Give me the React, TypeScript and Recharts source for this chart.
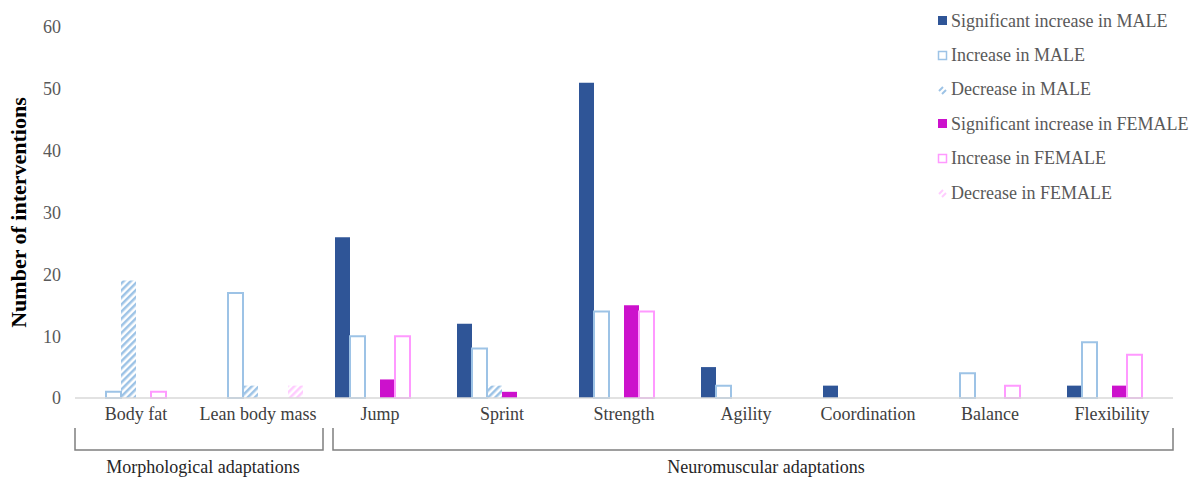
import React from 'react';
import { BarChart, Bar, XAxis, YAxis, Legend } from 'recharts';

const categories = ['Body fat', 'Lean body mass', 'Jump', 'Sprint', 'Strength', 'Agility', 'Coordination', 'Balance', 'Flexibility'];
const sigMale = [0, 0, 26, 12, 51, 5, 2, 0, 2];
const incMale = [1, 17, 10, 8, 14, 2, 0, 4, 9];
const decMale = [19, 2, 0, 2, 0, 0, 0, 0, 0];
const sigFemale = [0, 0, 3, 1, 15, 0, 0, 0, 2];
const incFemale = [1, 0, 10, 0, 14, 0, 0, 2, 7];
const decFemale = [0, 2, 0, 0, 0, 0, 0, 0, 0];
const yTicks = [0, 10, 20, 30, 40, 50, 60];

const groups = [
  { label: 'Morphological adaptations', x1: 75, x2: 323, cx: 203 },
  { label: 'Neuromuscular adaptations', x1: 333, x2: 1173, cx: 766 },
];

const data = categories.map((c, i) => ({
  name: c,
  sigMale: sigMale[i],
  incMale: incMale[i],
  decMale: decMale[i],
  sigFemale: sigFemale[i],
  incFemale: incFemale[i],
  decFemale: decFemale[i],
}));

const FONT = '"Liberation Serif", "DejaVu Serif", serif';

const legendItems = [
  { label: 'Significant increase in MALE', kind: 'solid', color: '#2F5597' },
  { label: 'Increase in MALE', kind: 'outline', color: '#9DC3E6' },
  { label: 'Decrease in MALE', kind: 'hatch', color: '#9DC3E6' },
  { label: 'Significant increase in FEMALE', kind: 'solid', color: '#CC11CC' },
  { label: 'Increase in FEMALE', kind: 'outline', color: '#FF99FF' },
  { label: 'Decrease in FEMALE', kind: 'hatch', color: '#FFCCFF' },
];

const LegendContent = () => (
  <div style={{ fontFamily: FONT, fontSize: 18, color: '#595959' }}>
    {legendItems.map((it) => (
      <div key={it.label} style={{ display: 'flex', alignItems: 'center', height: 34.4 }}>
        <svg width={12} height={12} style={{ marginRight: 2 }}>
          {it.kind === 'solid' && <rect x={1} y={1} width={9} height={9} fill={it.color} />}
          {it.kind === 'outline' && <rect x={1.5} y={1.5} width={8} height={8} fill="#fff" stroke={it.color} strokeWidth={1.5} />}
          {it.kind === 'hatch' && (
            <g stroke={it.color} strokeWidth={2}>
              <line x1={2} y1={7} x2={6} y2={3} />
              <line x1={5} y1={10} x2={9} y2={6} />
            </g>
          )}
        </svg>
        <span>{it.label}</span>
      </div>
    ))}
  </div>
);

export default function App() {
  return (
    <div style={{ position: 'absolute', left: 0, top: 0, width: 1198, height: 480, background: '#fff' }}>
      <BarChart
        width={1198}
        height={480}
        data={data}
        margin={{ top: 27, right: 25, bottom: 52, left: 0 }}
        barSize={15}
        barGap={0}
      >
        <defs>
          <pattern id="hatchMale" patternUnits="userSpaceOnUse" width={5} height={5} patternTransform="rotate(45)">
            <rect x={0} y={0} width={2.5} height={5} fill="#9DC3E6" />
          </pattern>
          <pattern id="hatchFemale" patternUnits="userSpaceOnUse" width={5} height={5} patternTransform="rotate(45)">
            <rect x={0} y={0} width={2.5} height={5} fill="#FFCCFF" />
          </pattern>
        </defs>
        <XAxis
          dataKey="name"
          interval={0}
          height={30}
          tickLine={false}
          tickSize={6}
          tickMargin={3}
          axisLine={{ stroke: '#D9D9D9', strokeWidth: 1.5 }}
          tick={{ fill: '#404040', fontSize: 18, fontFamily: FONT }}
        />
        <YAxis
          domain={[0, 60]}
          ticks={yTicks}
          width={75}
          axisLine={false}
          tickLine={false}
          tickSize={6}
          tickMargin={8}
          tick={{ fill: '#595959', fontSize: 18, fontFamily: FONT }}
          label={{
            value: 'Number of interventions',
            angle: -90,
            position: 'insideLeft',
            offset: 18,
            style: { textAnchor: 'middle', fill: '#000', fontSize: 22, fontWeight: 'bold', fontFamily: FONT },
          }}
        />
        <Legend
          layout="vertical"
          align="center"
          verticalAlign="middle"
          content={<LegendContent />}
          wrapperStyle={{ position: 'absolute', left: 937, top: 4, width: 261, height: 210 }}
        />
        <Bar dataKey="sigMale" name="Significant increase in MALE" fill="#2F5597" isAnimationActive={false} />
        <Bar dataKey="incMale" name="Increase in MALE" fill="#FFFFFF" stroke="#9DC3E6" strokeWidth={2} isAnimationActive={false} />
        <Bar dataKey="decMale" name="Decrease in MALE" fill="url(#hatchMale)" isAnimationActive={false} />
        <Bar dataKey="sigFemale" name="Significant increase in FEMALE" fill="#CC11CC" isAnimationActive={false} />
        <Bar dataKey="incFemale" name="Increase in FEMALE" fill="#FFFFFF" stroke="#FF99FF" strokeWidth={2} isAnimationActive={false} />
        <Bar dataKey="decFemale" name="Decrease in FEMALE" fill="url(#hatchFemale)" isAnimationActive={false} />
      </BarChart>
      <svg width={1198} height={480} style={{ position: 'absolute', left: 0, top: 0, pointerEvents: 'none' }}>
        {groups.map((g) => (
          <g key={g.label}>
            <polyline
              points={`${g.x1},428 ${g.x1},450 ${g.x2},450 ${g.x2},428`}
              fill="none"
              stroke="#7F7F7F"
              strokeWidth={1.5}
            />
            <text x={g.cx} y={473} textAnchor="middle" fontFamily={FONT} fontSize={18} fill="#262626">
              {g.label}
            </text>
          </g>
        ))}
      </svg>
    </div>
  );
}
